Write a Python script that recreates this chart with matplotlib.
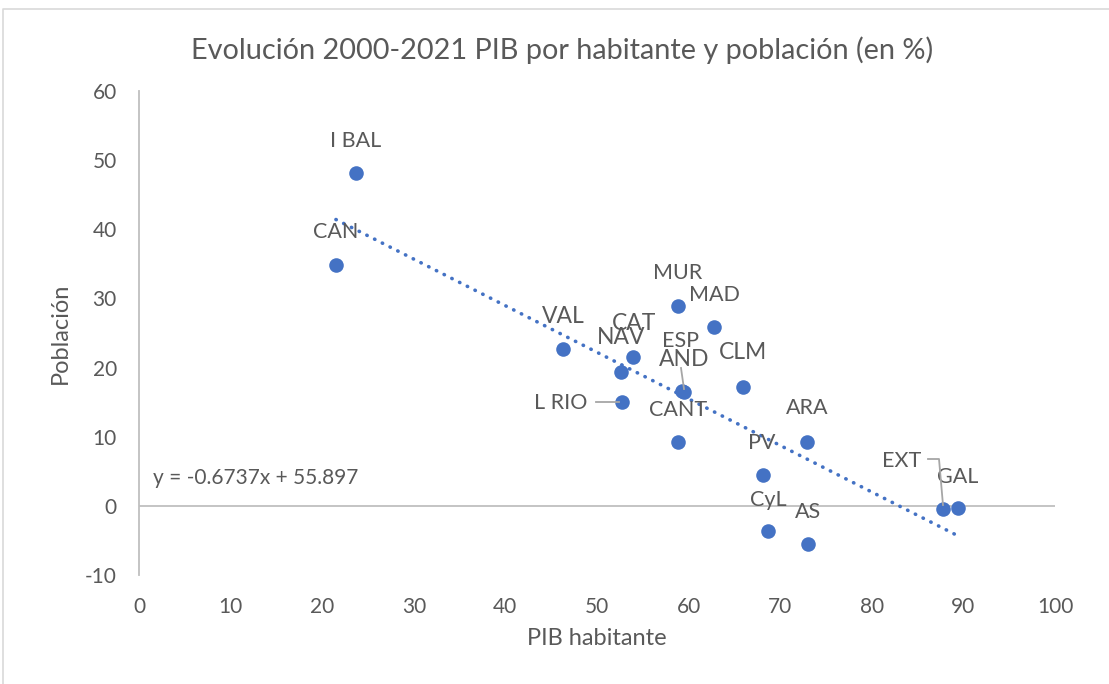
import matplotlib
matplotlib.use("Agg")
import matplotlib.pyplot as plt
from matplotlib.lines import Line2D

plt.rcParams['font.family'] = ['Lato', 'DejaVu Sans']
plt.rcParams['axes.unicode_minus'] = False

# Data
regions = ["I BAL", "CAN", "VAL", "NAV", "CAT", "L RIO", "MUR", "MAD", "ESP", "AND",
           "CLM", "CANT", "ARA", "PV", "CyL", "AS", "EXT", "GAL"]
pib = [23.7, 21.5, 46.3, 52.6, 53.9, 52.7, 58.8, 62.8, 59.3, 59.5,
       65.9, 58.8, 72.9, 68.1, 68.7, 73.0, 87.8, 89.4]
poblacion = [48.1, 34.8, 22.7, 19.4, 21.5, 15.0, 28.9, 25.9, 16.6, 16.4,
             17.2, 9.3, 9.3, 4.5, -3.6, -5.5, -0.4, -0.3]
slope = -0.6737
intercept = 55.897
x_ticks = [0, 10, 20, 30, 40, 50, 60, 70, 80, 90, 100]
y_ticks = [-10, 0, 10, 20, 30, 40, 50, 60]

# label offsets (points) and sizes
offsets = {
    "I BAL": (0, 23), "CAN": (0, 24), "VAL": (0, 23), "NAV": (0, 24.5),
    "CAT": (0.7, 24.5), "L RIO": (-25, -0.7), "MUR": (0, 24), "MAD": (0, 23),
    "ESP": (-1.4, 36), "AND": (0, 24), "CLM": (0, 24.5), "CANT": (0, 23),
    "ARA": (0, 24), "PV": (-0.7, 23), "CyL": (0, 22), "AS": (0, 23),
    "EXT": (-30, 34.5), "GAL": (0, 22),
}
big = {"VAL", "NAV", "CAT", "AND", "CLM"}

blue = "#4472C4"
txt = "#595959"
grey = "#BFBFBF"

fig = plt.figure(figsize=(11.09, 6.84), dpi=100)
ax = fig.add_axes([139/1109, 1-575/684, (1055-139)/1109, (575-91)/684])

ax.set_xlim(0, 100)
ax.set_ylim(-10, 60)
ax.set_xticks(x_ticks)
ax.set_yticks(y_ticks)
ax.tick_params(length=0, labelsize=15, colors=txt)
ax.tick_params(axis='x', pad=16)
ax.tick_params(axis='y', pad=16)
for s in ['top', 'right', 'bottom']:
    ax.spines[s].set_visible(False)
ax.spines['left'].set_color(grey)
ax.spines['left'].set_linewidth(1.3)
ax.axhline(0, color=grey, lw=1.3, zorder=1)

# trendline
xmin, xmax = min(pib), max(pib)
ax.plot([xmin, xmax], [slope*xmin + intercept, slope*xmax + intercept],
        color=blue, lw=2.6, linestyle=(0, (0.1, 2.3)), dash_capstyle='round', zorder=2)

ax.scatter(pib, poblacion, s=110, color=blue, zorder=3, linewidths=0)

for name, x, y in zip(regions, pib, poblacion):
    dx, dy = offsets[name]
    ha = 'right' if name == "L RIO" else 'center'
    ax.annotate(name, (x, y), xytext=(dx, dy), textcoords='offset points',
                ha=ha, va='center', fontsize=16.5 if name in big else 15.5, color=txt, zorder=4)

# leader lines (pixel -> display coordinates)
def pix_line(xs, ys):
    fig.add_artist(Line2D([px/1109 for px in xs], [1-py/684 for py in ys],
                          transform=fig.transFigure, color="#A6A6A6", lw=1.3, zorder=5))

pix_line([596, 619], [402, 402])
pix_line([681, 684], [368, 389])
pix_line([928, 939, 943], [459, 459, 505])

eq = "y = -0.6737x + 55.897"
ax.text(153/1109, 1-478/684, eq, transform=fig.transFigure, ha='left', va='center',
        fontsize=15, color=txt)

fig.text(562/1109, 1-50/684, "Evolución 2000-2021 PIB por habitante y población (en %)",
         ha='center', va='center', fontsize=20.8, color=txt)
ax.set_xlabel("PIB habitante", fontsize=17, color=txt, labelpad=8)
ax.set_ylabel("Población", fontsize=17, color=txt, labelpad=10)

# chart border
fig.add_artist(Line2D([3/1109, 3/1109, 1], [0, 1-9/684, 1-9/684],
                      transform=fig.transFigure, color="#D9D9D9", lw=1.2))

fig.savefig("out.png", dpi=100)
